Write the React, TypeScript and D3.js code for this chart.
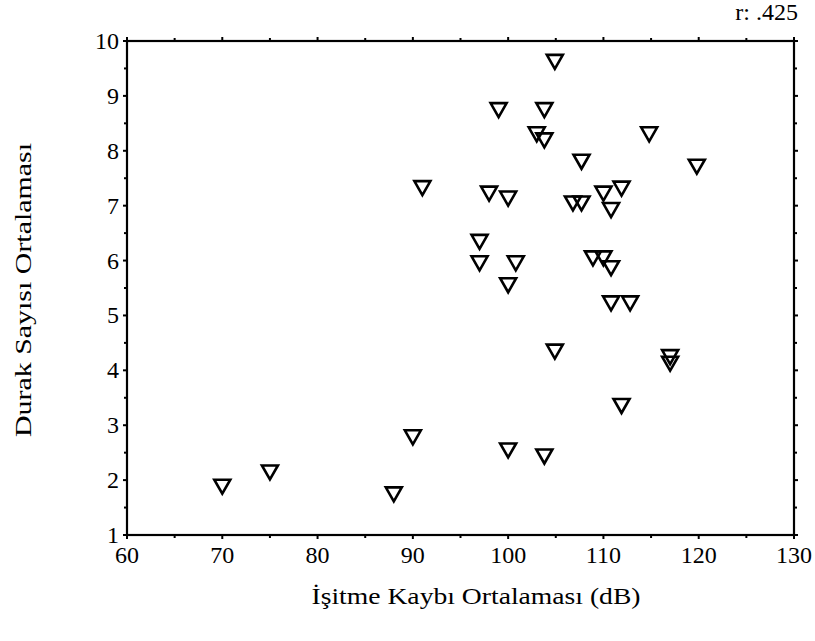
import { useEffect, useRef } from 'react';
import * as d3 from 'd3';

// hearing loss average (dB)
const hearingLoss = [
  70, 75, 88, 90, 91, 97, 97, 98, 99, 100, 100, 100.8, 100, 103.8, 103, 103.8, 103.8, 104.9,
  104.9, 106.8, 107.7, 107.7, 108.9, 110, 110.8, 110.8, 112.8, 110, 111.9, 110.8, 111.9, 114.8,
  117, 117, 119.8,
];

// average number of pauses
const pauseCount = [
  1.88, 2.14, 1.74, 2.78, 7.32, 6.34, 5.95, 7.22, 8.74, 7.13, 5.55, 5.95, 2.54, 2.43, 8.3, 8.19,
  8.74, 9.62, 4.34, 7.04, 7.04, 7.8, 6.04, 6.04, 5.86, 5.22, 5.22, 7.22, 7.31, 6.92, 3.35, 8.3,
  4.24, 4.12, 7.71,
];

const xTicks = [60, 70, 80, 90, 100, 110, 120, 130];
const yTicks = [1, 2, 3, 4, 5, 6, 7, 8, 9, 10];

const xLabel = 'İşitme Kaybı Ortalaması (dB)';
const yLabel = 'Durak Sayısı Ortalaması';
const rLabel = 'r: .425';

const App = () => {
  const svgRef = useRef<SVGSVGElement>(null);
  const width = 815;
  const height = 641;

  useEffect(() => {
    if (!svgRef.current) return;
    const svg = d3.select(svgRef.current);
    svg.selectAll('*').remove();

    const left = 127, right = 794, top = 41, bottom = 535;
    const font = '"Liberation Serif", "Times New Roman", serif';

    const x = d3.scaleLinear().domain([60, 130]).range([left, right]);
    const y = d3.scaleLinear().domain([1, 10]).range([bottom, top]);

    const minorX = d3.range(65, 130, 10);
    const minorY = d3.range(1.5, 10, 1);

    // frame
    svg.append('rect')
      .attr('x', left)
      .attr('y', top)
      .attr('width', right - left)
      .attr('height', bottom - top)
      .attr('fill', 'none')
      .attr('stroke', '#000')
      .attr('stroke-width', 2.2);

    const ticks = svg.append('g').attr('stroke', '#000').attr('stroke-width', 2);

    // x ticks bottom (down) and top (up)
    [...xTicks.map(v => ({ v, len: 4 })), ...minorX.map(v => ({ v, len: 3 }))].forEach(t => {
      ticks.append('line')
        .attr('x1', x(t.v)).attr('x2', x(t.v))
        .attr('y1', bottom).attr('y2', bottom + t.len);
      ticks.append('line')
        .attr('x1', x(t.v)).attr('x2', x(t.v))
        .attr('y1', top).attr('y2', top - t.len);
    });

    // y ticks left and right
    [...yTicks.map(v => ({ v, len: 4 })), ...minorY.map(v => ({ v, len: 3 }))].forEach(t => {
      ticks.append('line')
        .attr('y1', y(t.v)).attr('y2', y(t.v))
        .attr('x1', left).attr('x2', left - t.len);
      ticks.append('line')
        .attr('y1', y(t.v)).attr('y2', y(t.v))
        .attr('x1', right).attr('x2', right + t.len);
    });

    // tick labels
    svg.append('g')
      .selectAll('text')
      .data(xTicks)
      .join('text')
      .attr('x', d => x(d))
      .attr('y', bottom + 28)
      .attr('text-anchor', 'middle')
      .attr('font-family', font)
      .attr('font-size', 24)
      .text(d => d);

    svg.append('g')
      .selectAll('text')
      .data(yTicks)
      .join('text')
      .attr('x', left - 8)
      .attr('y', d => y(d) + 8)
      .attr('text-anchor', 'end')
      .attr('font-family', font)
      .attr('font-size', 24)
      .text(d => d);

    // markers: open downward triangles
    const w = 16, h = 14;
    svg.append('g')
      .selectAll('path')
      .data(hearingLoss.map((v, i) => [v, pauseCount[i]]))
      .join('path')
      .attr('transform', d => `translate(${x(d[0])},${y(d[1])})`)
      .attr('d', `M${-w / 2},${-h / 2}L${w / 2},${-h / 2}L0,${h / 2}Z`)
      .attr('fill', 'none')
      .attr('stroke', '#000')
      .attr('stroke-width', 2.6)
      .attr('stroke-linejoin', 'miter');

    // axis titles
    svg.append('text')
      .attr('x', 476)
      .attr('y', 604)
      .attr('text-anchor', 'middle')
      .attr('font-family', font)
      .attr('font-size', 23)
      .attr('textLength', 329)
      .attr('lengthAdjust', 'spacingAndGlyphs')
      .text(xLabel);

    svg.append('text')
      .attr('transform', `translate(31,290) rotate(-90)`)
      .attr('text-anchor', 'middle')
      .attr('font-family', font)
      .attr('font-size', 23)
      .attr('textLength', 294)
      .attr('lengthAdjust', 'spacingAndGlyphs')
      .text(yLabel);

    svg.append('text')
      .attr('x', 798)
      .attr('y', 20)
      .attr('text-anchor', 'end')
      .attr('font-family', font)
      .attr('font-size', 24)
      .text(rLabel);
  }, []);

  return (
    <svg
      ref={svgRef}
      width={width}
      height={height}
      style={{ position: 'absolute', left: 0, top: 0, background: '#fff' }}
    />
  );
};

export default App;
